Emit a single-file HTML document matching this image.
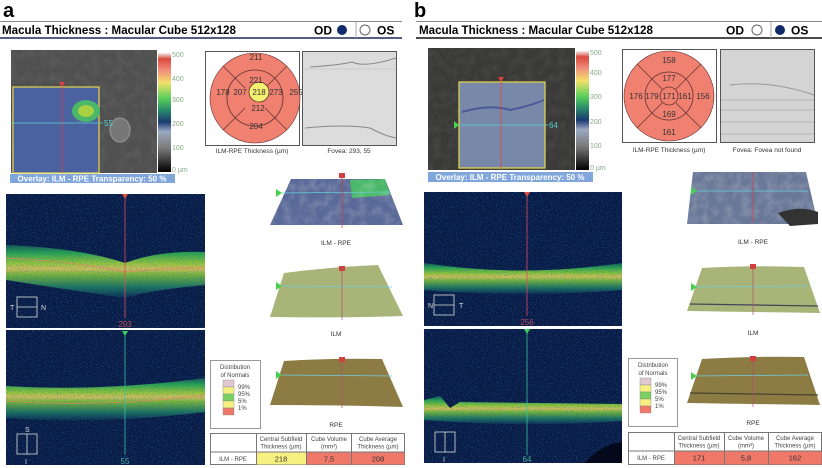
<!DOCTYPE html>
<html><head><meta charset="utf-8"><style>
html,body{margin:0;padding:0;background:#fff;}
svg{display:block;font-family:"Liberation Sans",sans-serif;}
</style></head><body>
<svg width="822" height="468" viewBox="0 0 822 468" xmlns="http://www.w3.org/2000/svg">
<defs>
<filter id="noise" x="0" y="0" width="100%" height="100%" color-interpolation-filters="sRGB">
<feTurbulence type="fractalNoise" baseFrequency="0.8" numOctaves="2" seed="3" result="n"/>
<feColorMatrix in="n" type="matrix" values="0 0 0 0 0.1  0 0 0 0 0.45  0 0 0 0 0.65  0 0 0 3 -1.5"/>
</filter>
<filter id="gnoise" x="0" y="0" width="100%" height="100%">
<feTurbulence type="fractalNoise" baseFrequency="0.12" numOctaves="3" seed="7" result="n"/>
<feColorMatrix in="n" type="matrix" values="0 0 0 0 1  0 0 0 0 1  0 0 0 0 1  0 0 0 1.2 -0.45"/>
</filter>
<linearGradient id="cbar" x1="0" y1="0" x2="0" y2="1">
<stop offset="0" stop-color="#f0f0f0"/><stop offset="0.05" stop-color="#d84a3a"/><stop offset="0.14" stop-color="#f08a7a"/>
<stop offset="0.25" stop-color="#f2e06a"/><stop offset="0.38" stop-color="#5ad05a"/><stop offset="0.48" stop-color="#2a8a6a"/>
<stop offset="0.58" stop-color="#1a3a70"/><stop offset="0.66" stop-color="#9aa8c0"/><stop offset="0.8" stop-color="#7a7a7a"/><stop offset="1" stop-color="#000"/>
</linearGradient>
<linearGradient id="band" x1="0" y1="0" x2="0" y2="1">
<stop offset="0" stop-color="#1a5a5a"/><stop offset="0.15" stop-color="#2cb050"/><stop offset="0.35" stop-color="#a8d838"/>
<stop offset="0.45" stop-color="#e8d060"/><stop offset="0.55" stop-color="#8ac838"/><stop offset="0.8" stop-color="#1e7a60"/><stop offset="1" stop-color="#0e2a55"/>
</linearGradient>
</defs>

<!-- ================= PANEL A ================= -->
<g>
<text x="3" y="17" font-size="20" font-weight="bold">a</text>
<line x1="0" y1="21.5" x2="402" y2="21.5" stroke="#888"/>
<line x1="0" y1="38" x2="402" y2="38" stroke="#1a2a50" stroke-width="1.5"/>
<text x="2" y="34" font-size="11.6" font-weight="bold">Macula Thickness : Macular Cube 512x128</text>
<text x="314" y="34.5" font-size="12" font-weight="bold">OD</text>
<circle cx="342" cy="30" r="5" fill="#102a6a"/>
<line x1="356" y1="22" x2="356" y2="38" stroke="#aaa"/>
<circle cx="365" cy="30" r="5" fill="#fff" stroke="#666"/>
<text x="377" y="34.5" font-size="12" font-weight="bold">OS</text>

<g>
<rect x="11" y="50" width="146" height="123" fill="#505050"/>
<rect x="11" y="50" width="146" height="123" filter="url(#gnoise)" opacity="0.1"/>
<ellipse cx="120" cy="130" rx="10" ry="12" fill="#777" stroke="#999"/>
<rect x="13" y="87" width="86" height="86" fill="#4a62a0" stroke="#e6d84a" stroke-width="1.2"/>
<ellipse cx="86" cy="111" rx="14" ry="11" fill="#4ab868"/>
<ellipse cx="86" cy="111" rx="8" ry="6" fill="#a8d040"/>
<line x1="62" y1="87" x2="62" y2="173" stroke="#e04040" stroke-width="0.8"/>
<line x1="11" y1="123" x2="103" y2="123" stroke="#5ad0d0" stroke-width="0.8"/>
<text x="104" y="126" font-size="8" fill="#5ad0d0">55</text>
<path d="M59 82 L65 82 L62 87 Z" fill="#e04040"/>
</g>
<rect x="158" y="53" width="13" height="119" fill="url(#cbar)"/>
<g font-size="7" fill="#8a8">
<text x="172" y="57">500</text><text x="172" y="81">400</text><text x="172" y="102">300</text><text x="172" y="126">200</text><text x="172" y="150">100</text><text x="172" y="172">0 µm</text>
</g>
<rect x="10" y="174" width="165" height="9" fill="#80a6dc"/>
<text x="92" y="181.5" font-size="8" fill="#fff" text-anchor="middle" font-weight="bold">Overlay: ILM - RPE  Transparency: 50 %</text>

<g>
<rect x="205.5" y="51.5" width="94" height="94" fill="#fff" stroke="#555"/>
<circle cx="255" cy="98" r="45" fill="#f08070" stroke="#603030" stroke-width="0.6"/>
<circle cx="255" cy="98" r="28" fill="none" stroke="#603030" stroke-width="0.8"/>
<line x1="223" y1="66" x2="235" y2="78" stroke="#603030" stroke-width="0.7"/><line x1="287" y1="66" x2="275" y2="78" stroke="#603030" stroke-width="0.7"/>
<line x1="223" y1="130" x2="235" y2="118" stroke="#603030" stroke-width="0.7"/><line x1="287" y1="130" x2="275" y2="118" stroke="#603030" stroke-width="0.7"/>
<line x1="245" y1="88" x2="235" y2="78" stroke="#603030" stroke-width="0.7"/><line x1="265" y1="88" x2="275" y2="78" stroke="#603030" stroke-width="0.7"/>
<line x1="245" y1="108" x2="235" y2="118" stroke="#603030" stroke-width="0.7"/><line x1="265" y1="108" x2="275" y2="118" stroke="#603030" stroke-width="0.7"/>
<circle cx="259" cy="92" r="10" fill="#f4f070" stroke="#603030" stroke-width="0.8"/>
<g font-size="8" fill="#333" text-anchor="middle">
<text x="256" y="60">211</text><text x="256" y="83">221</text><text x="223" y="95">178</text><text x="240" y="95">207</text><text x="259" y="95">218</text><text x="276" y="95">273</text><text x="296" y="95">255</text><text x="258" y="111">212</text><text x="256" y="129">204</text>
</g>
</g>
<text x="252" y="153" font-size="6.5" fill="#333" text-anchor="middle">ILM-RPE Thickness (µm)</text>
<g>
<rect x="302.5" y="51.5" width="94" height="94" fill="#dcdcdc" stroke="#555"/>
<path d="M310 67 Q340 65 352 62 Q365 68 396 58" stroke="#888" fill="none"/>
<path d="M305 128 Q345 124 370 128 Q385 136 396 138" stroke="#888" fill="none"/>
<line x1="303" y1="69" x2="396" y2="69" stroke="#bbb" stroke-width="0.5"/>
</g>
<text x="349" y="153" font-size="6.5" fill="#333" text-anchor="middle">Fovea: 293, 55</text>

<g>
<rect x="6" y="194" width="199" height="134" fill="#0a1a44"/>
<path d="M6 245 Q80 248 125 263 Q160 250 205 252 L205 285 Q150 290 125 298 Q70 290 6 280 Z" fill="url(#band)" opacity="0.9"/>
<path d="M6 258 Q80 262 125 272 Q165 268 205 268" stroke="#f08a5a" stroke-width="1" fill="none" opacity="0.7"/>
<rect x="6" y="194" width="199" height="134" filter="url(#noise)" opacity="0.6"/>
<line x1="125" y1="196" x2="125" y2="318" stroke="#e04a5a" stroke-width="0.8"/>
<path d="M122 194 L128 194 L125 199 Z" fill="#e05040"/>
<text x="125" y="327" font-size="8" fill="#c04a5a" text-anchor="middle">293</text>
<rect x="17" y="297" width="20" height="20" fill="none" stroke="#ddd" stroke-width="0.8"/>
<line x1="17" y1="307" x2="37" y2="307" stroke="#ddd" stroke-width="0.8"/>
<text x="10" y="310" font-size="7" fill="#ddd">T</text><text x="41" y="310" font-size="7" fill="#ddd">N</text>
</g>
<g>
<rect x="6" y="330" width="199" height="135" fill="#0a1a44"/>
<path d="M6 386 Q100 392 205 378 L205 412 Q100 425 6 418 Z" fill="url(#band)" opacity="0.9"/>
<path d="M6 401 Q100 408 205 395" stroke="#f08a5a" stroke-width="1" fill="none" opacity="0.7"/>
<rect x="6" y="330" width="199" height="135" filter="url(#noise)" opacity="0.6"/>
<line x1="125" y1="332" x2="125" y2="455" stroke="#3ac0a0" stroke-width="0.8"/>
<path d="M122 331 L128 331 L125 336 Z" fill="#3ad060"/>
<text x="125" y="464" font-size="8" fill="#4ab0a0" text-anchor="middle">55</text>
<rect x="17" y="434" width="20" height="20" fill="none" stroke="#ddd" stroke-width="0.8"/>
<line x1="27" y1="434" x2="27" y2="454" stroke="#ddd" stroke-width="0.8"/>
<text x="25" y="432" font-size="7" fill="#ddd">S</text><text x="25" y="464" font-size="7" fill="#ddd">I</text>
</g>

<g>
<path d="M291 179 L385 179 L403 225 L270 225 Z" fill="#5a6a98"/>
<path d="M350 180 L385 179 L390 195 L352 198 Z" fill="#4ab868"/>
<path d="M291 179 L385 179 L403 225 L270 225 Z" filter="url(#gnoise)" opacity="0.3"/>
<line x1="280" y1="193" x2="390" y2="192" stroke="#6ad0e0" stroke-width="0.7"/>
<line x1="342" y1="178" x2="342" y2="228" stroke="#d04040" stroke-width="0.7"/>
<rect x="339" y="173" width="6" height="5" fill="#d04040"/>
<path d="M276 189 L282 193 L276 197 Z" fill="#4ad050"/>
</g>
<text x="336" y="245" font-size="6.5" fill="#333" text-anchor="middle">ILM - RPE</text>
<g>
<path d="M284 273 Q330 267 378 265 L403 316 Q340 318 270 317 Z" fill="#a8b478"/>
<line x1="280" y1="286" x2="392" y2="287" stroke="#6ad0e0" stroke-width="0.7"/>
<line x1="342" y1="268" x2="342" y2="320" stroke="#b05070" stroke-width="0.7"/>
<rect x="339" y="266" width="6" height="5" fill="#d04040"/>
<path d="M276 282 L282 286 L276 290 Z" fill="#4ad050"/>
</g>
<text x="336" y="336" font-size="6.5" fill="#333" text-anchor="middle">ILM</text>
<g>
<path d="M284 361 Q330 358 382 359 L403 407 Q340 405 270 405 Z" fill="#8c7c44"/>
<line x1="280" y1="375" x2="392" y2="376" stroke="#6ad0e0" stroke-width="0.7"/>
<line x1="342" y1="359" x2="342" y2="408" stroke="#b05070" stroke-width="0.7"/>
<rect x="339" y="357" width="6" height="5" fill="#d04040"/>
<path d="M276 371 L282 375 L276 379 Z" fill="#4ad050"/>
</g>
<text x="336" y="427" font-size="6.5" fill="#333" text-anchor="middle">RPE</text>

<g>
<rect x="210.5" y="360.5" width="50" height="68" fill="#fff" stroke="#999"/>
<text x="235" y="369" font-size="6" fill="#444" text-anchor="middle">Distribution</text>
<text x="235" y="377" font-size="6" fill="#444" text-anchor="middle">of Normals</text>
<rect x="223" y="380" width="11" height="7" fill="#e0c8d0" stroke="#888" stroke-width="0.4"/>
<rect x="223" y="387" width="11" height="7" fill="#f6f080" stroke="#888" stroke-width="0.4"/>
<rect x="223" y="394" width="11" height="7" fill="#7ad060" stroke="#888" stroke-width="0.4"/>
<rect x="223" y="401" width="11" height="7" fill="#f6f080" stroke="#888" stroke-width="0.4"/>
<rect x="223" y="408" width="11" height="7" fill="#f07868" stroke="#888" stroke-width="0.4"/>
<g font-size="6" fill="#444"><text x="238" y="389">99%</text><text x="238" y="396">95%</text><text x="238" y="403">5%</text><text x="238" y="410">1%</text></g>
</g>
<g>
<rect x="210.5" y="433.5" width="194" height="31" fill="#fff" stroke="#777"/>
<rect x="256.5" y="452" width="50" height="12.5" fill="#f6f080"/>
<rect x="306.5" y="452" width="45" height="12.5" fill="#f07868"/>
<rect x="351.5" y="452" width="53" height="12.5" fill="#f07868"/>
<line x1="210.5" y1="452" x2="404.5" y2="452" stroke="#777"/>
<line x1="256.5" y1="433.5" x2="256.5" y2="464.5" stroke="#777"/>
<line x1="306.5" y1="433.5" x2="306.5" y2="464.5" stroke="#777"/>
<line x1="351.5" y1="433.5" x2="351.5" y2="464.5" stroke="#777"/>
<g font-size="6" fill="#444" text-anchor="middle">
<text x="281" y="441">Central Subfield</text><text x="281" y="448.5">Thickness (µm)</text>
<text x="329" y="441">Cube Volume</text><text x="329" y="448.5">(mm³)</text>
<text x="378" y="441">Cube Average</text><text x="378" y="448.5">Thickness (µm)</text>
<text x="233" y="461">ILM - RPE</text>
</g>
<g font-size="7.5" fill="#333" text-anchor="middle">
<text x="281" y="461.5">218</text><text x="329" y="461.5">7,5</text><text x="378" y="461.5">208</text>
</g>
</g>
</g>

<!-- ================= PANEL B ================= -->
<g>
<text x="414" y="17" font-size="20" font-weight="bold">b</text>
<line x1="416" y1="21.5" x2="822" y2="21.5" stroke="#888"/>
<line x1="416" y1="38" x2="822" y2="38" stroke="#111" stroke-width="1.5"/>
<text x="419" y="34" font-size="11.6" font-weight="bold">Macula Thickness : Macular Cube 512x128</text>
<text x="726" y="34.5" font-size="12" font-weight="bold">OD</text>
<circle cx="757" cy="30" r="5" fill="#fff" stroke="#666"/>
<line x1="771" y1="22" x2="771" y2="38" stroke="#aaa"/>
<circle cx="780" cy="30" r="5" fill="#102a6a"/>
<text x="791" y="34.5" font-size="12" font-weight="bold">OS</text>

<g>
<rect x="428" y="48" width="147" height="122" fill="#3a3a38"/>
<rect x="428" y="48" width="147" height="122" filter="url(#gnoise)" opacity="0.1"/>
<rect x="459" y="82" width="86" height="86" fill="#7888a8" stroke="#e6d84a" stroke-width="1.2"/>
<path d="M462 112 Q490 104 510 110 Q530 106 544 100" stroke="#4a5a98" stroke-width="2" fill="none"/>
<line x1="501" y1="82" x2="501" y2="168" stroke="#e04040" stroke-width="0.8"/>
<line x1="455" y1="125" x2="548" y2="125" stroke="#5ad0d0" stroke-width="0.8"/>
<text x="549" y="128" font-size="8" fill="#5ad0d0">64</text>
<path d="M454 121 L459 125 L454 129 Z" fill="#4ad050"/>
<path d="M498 77 L504 77 L501 82 Z" fill="#e04040"/>
</g>
<rect x="576" y="51" width="13" height="119" fill="url(#cbar)"/>
<g font-size="7" fill="#8a8">
<text x="590" y="55">500</text><text x="590" y="75">400</text><text x="590" y="99">300</text><text x="590" y="124">200</text><text x="590" y="148">100</text><text x="590" y="170">0 µm</text>
</g>
<rect x="428" y="172" width="165" height="10" fill="#80a6dc"/>
<text x="510" y="180" font-size="8" fill="#fff" text-anchor="middle" font-weight="bold">Overlay: ILM - RPE  Transparency: 50 %</text>

<g>
<rect x="622.5" y="49.5" width="94" height="93" fill="#fff" stroke="#555"/>
<circle cx="669" cy="96" r="45" fill="#f08070" stroke="#603030" stroke-width="0.6"/>
<circle cx="669" cy="96" r="24" fill="none" stroke="#603030" stroke-width="0.8"/>
<circle cx="669" cy="96" r="9" fill="none" stroke="#603030" stroke-width="0.8"/>
<line x1="637" y1="64" x2="652" y2="79" stroke="#603030" stroke-width="0.7"/><line x1="701" y1="64" x2="686" y2="79" stroke="#603030" stroke-width="0.7"/>
<line x1="637" y1="128" x2="652" y2="113" stroke="#603030" stroke-width="0.7"/><line x1="701" y1="128" x2="686" y2="113" stroke="#603030" stroke-width="0.7"/>
<line x1="662" y1="89" x2="652" y2="79" stroke="#603030" stroke-width="0.7"/><line x1="676" y1="89" x2="686" y2="79" stroke="#603030" stroke-width="0.7"/>
<line x1="662" y1="103" x2="652" y2="113" stroke="#603030" stroke-width="0.7"/><line x1="676" y1="103" x2="686" y2="113" stroke="#603030" stroke-width="0.7"/>
<g font-size="8" fill="#333" text-anchor="middle">
<text x="669" y="63">158</text><text x="669" y="81">177</text><text x="636" y="99">176</text><text x="652" y="99">179</text><text x="669" y="99">171</text><text x="685" y="99">161</text><text x="703" y="99">156</text><text x="669" y="117">169</text><text x="669" y="135">161</text>
</g>
</g>
<text x="669" y="152" font-size="6.5" fill="#333" text-anchor="middle">ILM-RPE Thickness (µm)</text>
<g>
<rect x="720.5" y="49.5" width="94" height="93" fill="#d4d4d4" stroke="#555"/>
<g stroke="#bbb" stroke-width="1.2"><line x1="721" y1="100" x2="814" y2="100"/><line x1="721" y1="110" x2="814" y2="110"/><line x1="721" y1="122" x2="814" y2="122"/><line x1="721" y1="134" x2="814" y2="134"/></g>
<path d="M730 85 Q770 80 814 95" stroke="#999" fill="none"/>
</g>
<text x="767" y="152" font-size="6.5" fill="#333" text-anchor="middle">Fovea: Fovea not found</text>

<g>
<rect x="424" y="192" width="198" height="134" fill="#0a1a44"/>
<path d="M424 263 Q520 278 622 263 L622 290 Q530 298 424 290 Z" fill="url(#band)" opacity="0.9"/>
<rect x="424" y="192" width="198" height="134" filter="url(#noise)" opacity="0.6"/>
<line x1="527" y1="194" x2="527" y2="316" stroke="#e04a5a" stroke-width="0.8"/>
<path d="M524 192 L530 192 L527 197 Z" fill="#e05040"/>
<text x="527" y="325" font-size="8" fill="#c04a5a" text-anchor="middle">256</text>
<rect x="434" y="295" width="20" height="20" fill="none" stroke="#ddd" stroke-width="0.8"/>
<line x1="434" y1="305" x2="454" y2="305" stroke="#ddd" stroke-width="0.8"/>
<text x="428" y="308" font-size="7" fill="#ddd">N</text><text x="459" y="308" font-size="7" fill="#ddd">T</text>
</g>
<g>
<rect x="424" y="329" width="198" height="134" fill="#0a1a44"/>
<path d="M424 400 L440 396 L450 408 L460 402 L622 404 L622 421 Q530 428 424 420 Z" fill="url(#band)" opacity="0.9"/>
<rect x="424" y="329" width="198" height="134" filter="url(#noise)" opacity="0.6"/>
<path d="M585 463 Q600 445 622 442 L622 463 Z" fill="#03081a"/>
<line x1="527" y1="331" x2="527" y2="455" stroke="#3ac0a0" stroke-width="0.8"/>
<path d="M524 329 L530 329 L527 334 Z" fill="#3ad060"/>
<text x="527" y="462" font-size="8" fill="#4ab0a0" text-anchor="middle">64</text>
<rect x="435" y="432" width="20" height="20" fill="none" stroke="#ddd" stroke-width="0.8"/>
<line x1="445" y1="432" x2="445" y2="452" stroke="#ddd" stroke-width="0.8"/>
<text x="443" y="462" font-size="7" fill="#ddd">I</text>
</g>

<g>
<path d="M693 172 L806 172 L818 224 L687 224 Z" fill="#6a7898"/>
<path d="M693 172 L806 172 L818 224 L687 224 Z" filter="url(#gnoise)" opacity="0.3"/>
<path d="M778 213 Q800 205 818 212 L818 224 L790 226 Z" fill="#333"/>
<line x1="695" y1="191" x2="808" y2="191" stroke="#6ad0e0" stroke-width="0.7"/>
<line x1="753" y1="172" x2="753" y2="222" stroke="#d04040" stroke-width="0.7"/>
<path d="M691 187 L697 191 L691 195 Z" fill="#4ad050"/>
</g>
<text x="753" y="244" font-size="6.5" fill="#333" text-anchor="middle">ILM - RPE</text>
<g>
<path d="M702 268 Q750 265 804 267 L820 313 Q750 312 687 311 Z" fill="#a8b478"/>
<line x1="690" y1="304" x2="818" y2="306" stroke="#445" stroke-width="1.2"/>
<line x1="695" y1="287" x2="808" y2="286" stroke="#6ad0e0" stroke-width="0.7"/>
<line x1="753" y1="266" x2="753" y2="315" stroke="#b05070" stroke-width="0.7"/>
<rect x="750" y="264" width="6" height="5" fill="#d04040"/>
<path d="M691 283 L697 287 L691 291 Z" fill="#4ad050"/>
</g>
<text x="753" y="335" font-size="6.5" fill="#333" text-anchor="middle">ILM</text>
<g>
<path d="M702 359 Q750 356 804 357 L820 405 Q750 404 687 403 Z" fill="#8c7c44"/>
<line x1="690" y1="393" x2="818" y2="395" stroke="#443" stroke-width="1.2"/>
<line x1="695" y1="376" x2="808" y2="375" stroke="#6ad0e0" stroke-width="0.7"/>
<line x1="753" y1="356" x2="753" y2="407" stroke="#b05070" stroke-width="0.7"/>
<rect x="750" y="356" width="6" height="5" fill="#d04040"/>
<path d="M691 372 L697 376 L691 380 Z" fill="#4ad050"/>
</g>
<text x="753" y="425" font-size="6.5" fill="#333" text-anchor="middle">RPE</text>

<g>
<rect x="628.5" y="358.5" width="49" height="68" fill="#fff" stroke="#999"/>
<text x="653" y="367" font-size="6" fill="#444" text-anchor="middle">Distribution</text>
<text x="653" y="375" font-size="6" fill="#444" text-anchor="middle">of Normals</text>
<rect x="640" y="378" width="11" height="7" fill="#e0c8d0" stroke="#888" stroke-width="0.4"/>
<rect x="640" y="385" width="11" height="7" fill="#f6f080" stroke="#888" stroke-width="0.4"/>
<rect x="640" y="392" width="11" height="7" fill="#7ad060" stroke="#888" stroke-width="0.4"/>
<rect x="640" y="399" width="11" height="7" fill="#f6f080" stroke="#888" stroke-width="0.4"/>
<rect x="640" y="406" width="11" height="7" fill="#f07868" stroke="#888" stroke-width="0.4"/>
<g font-size="6" fill="#444"><text x="655" y="387">99%</text><text x="655" y="394">95%</text><text x="655" y="401">5%</text><text x="655" y="408">1%</text></g>
</g>
<g>
<rect x="628.5" y="432.5" width="193" height="32" fill="#fff" stroke="#777"/>
<rect x="674.5" y="451" width="147" height="13.5" fill="#f07868"/>
<line x1="628.5" y1="451" x2="821.5" y2="451" stroke="#777"/>
<line x1="674.5" y1="432.5" x2="674.5" y2="464.5" stroke="#777"/>
<line x1="724.5" y1="432.5" x2="724.5" y2="464.5" stroke="#777"/>
<line x1="768.5" y1="432.5" x2="768.5" y2="464.5" stroke="#777"/>
<g font-size="6" fill="#444" text-anchor="middle">
<text x="699" y="440">Central Subfield</text><text x="699" y="447.5">Thickness (µm)</text>
<text x="746" y="440">Cube Volume</text><text x="746" y="447.5">(mm³)</text>
<text x="795" y="440">Cube Average</text><text x="795" y="447.5">Thickness (µm)</text>
<text x="651" y="460">ILM - RPE</text>
</g>
<g font-size="7.5" fill="#333" text-anchor="middle">
<text x="699" y="460.5">171</text><text x="746" y="460.5">5,8</text><text x="795" y="460.5">162</text>
</g>
</g>
</g>
</svg>
</body></html>
